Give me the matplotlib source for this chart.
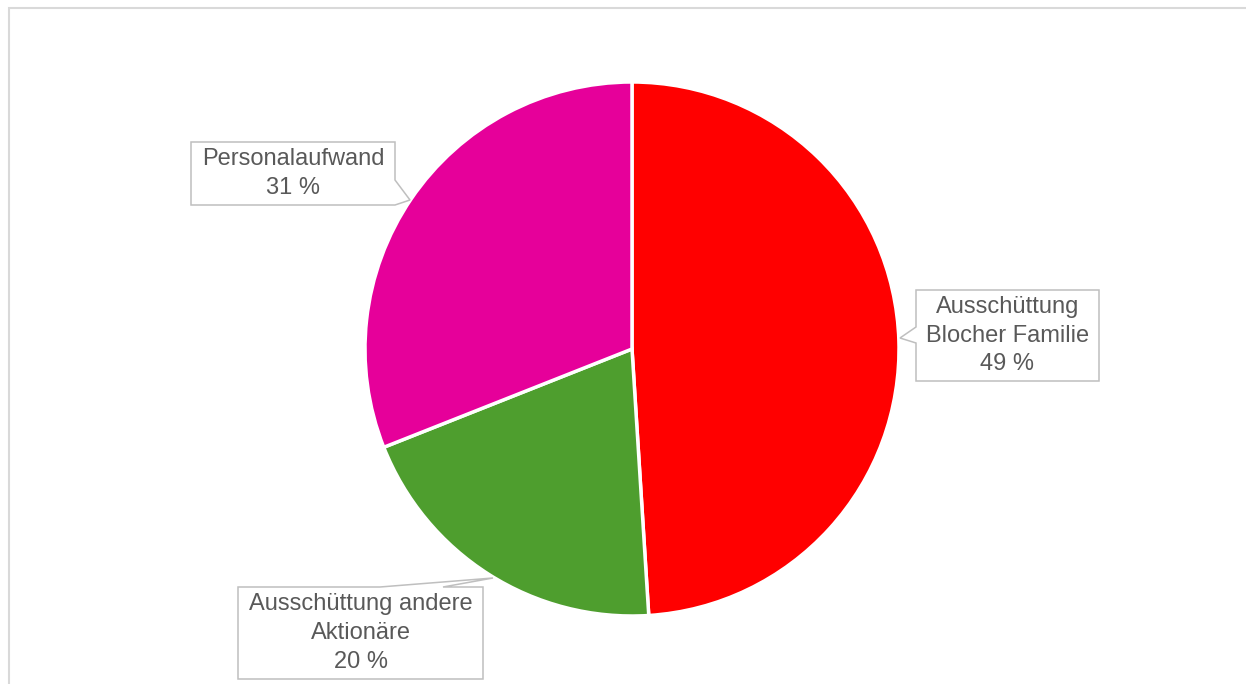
import matplotlib.pyplot as plt
from matplotlib.patches import Polygon

plt.rcParams['font.family'] = ['Liberation Sans', 'DejaVu Sans']

# data
labels = ['Ausschüttung\nBlocher Familie', 'Ausschüttung andere\nAktionäre', 'Personalaufwand']
shares = [49, 20, 31]
colors = ['#FF0000', '#4E9E2E', '#E6009A']

W, H = 1246, 684
fig = plt.figure(figsize=(W / 100, H / 100), dpi=100)
ax = fig.add_axes([0, 0, 1, 1])

# chart frame (only top/left visible)
ax.plot([8.5, 8.5, W], [0, H - 7.5, H - 7.5], color='#D9D9D9', lw=1.5, solid_joinstyle='miter')

ax.pie(shares, colors=colors, startangle=90, counterclock=False,
       center=(632, H - 349), radius=267, frame=True,
       wedgeprops=dict(edgecolor='white', linewidth=2.5))
ax.set_xlim(0, W)
ax.set_ylim(0, H)
ax.set_aspect('equal')
ax.axis('off')

# callout boxes: (left, top, right, bottom) in px, pointer base, tip
boxes = [
    ((916, 290, 1099, 381), 'left', (327, 343), (900, 338)),
    ((238, 587, 483, 679), 'top', (380, 443), (493, 578)),
    ((191, 142, 395, 205), 'right', (180, 205), (410, 200)),
]

for (lab, val), (rect, side, base, tip) in zip(zip(labels, shares), boxes):
    l, t, r, b = rect
    if side == 'left':
        pts = [(l, t), (r, t), (r, b), (l, b), (l, base[1]), tip, (l, base[0])]
    elif side == 'top':
        pts = [(l, t), (base[0], t), tip, (base[1], t), (r, t), (r, b), (l, b)]
    else:
        pts = [(l, t), (r, t), (r, base[0]), tip, (r, base[1]), (r, b), (l, b)]
    pts = [(x, H - y) for x, y in pts]
    ax.add_patch(Polygon(pts, closed=True, facecolor='white', edgecolor='#BFBFBF', lw=1.1, zorder=5))
    ax.text((l + r) / 2, H - (t + b) / 2, f'{lab}\n{val} %', ha='center', va='center',
            fontsize=17, color='#595959', linespacing=1.4, zorder=6)

fig.savefig('out.png', dpi=100)
